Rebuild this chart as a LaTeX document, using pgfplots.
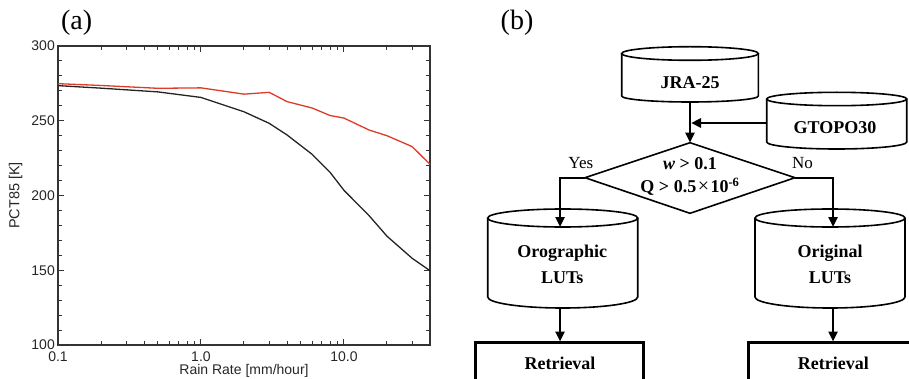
\documentclass[border=0pt]{standalone}
\usepackage{pgfplots}
\pgfplotsset{compat=1.18}
\usepackage{fontspec}
\setmainfont{Liberation Serif}
\setsansfont{Liberation Sans}
\usetikzlibrary{arrows.meta}
\definecolor{redline}{RGB}{222,58,40}
\definecolor{blkline}{RGB}{35,35,35}
\newcommand{\cyl}[6]{%
  \draw[line width=1.6pt, fill=white] (#1,#3) ellipse [x radius=#2, y radius=#4];
  \draw[line width=1.6pt] (#1-#2,#3) -- (#1-#2,#5) arc[start angle=180, end angle=0, x radius=#2, y radius=#6] -- (#1+#2,#3);
}
\begin{document}
\begin{tikzpicture}[x=1pt,y=1pt]
\path[use as bounding box] (0,0) rectangle (909,378);
\begin{axis}[
  at={(58pt,33pt)}, anchor=south west, scale only axis,
  width=372pt, height=299pt,
  xmode=log, xmin=0.1, xmax=40, ymin=100, ymax=300,
  xtick={0.1,1,10}, xticklabels={0.1,1.0,10.0},
  minor xtick={0.2,0.3,0.4,0.5,0.6,0.7,0.8,0.9,2,3,4,5,6,7,8,9,20,30},
  ytick={100,150,200,250,300}, yticklabels={100,150,200,250,300},
  minor y tick num=4,
  tick align=inside, major tick length=6pt, minor tick length=4pt,
  axis line style={line width=1.2pt, draw=black!80},
  every tick/.style={line width=1pt, draw=black!80},
  ticklabel style={font=\fontsize{14}{16}\selectfont\sffamily, text=black!85},
  yticklabel style={inner sep=3pt},
  xticklabel style={anchor=base, yshift=-16pt, inner sep=0pt},
  xlabel={Rain Rate [mm/hour]}, ylabel={PCT85 [K]},
  label style={font=\fontsize{14.5}{16}\selectfont\sffamily, text=black!85},
  xlabel style={at={(axis description cs:0.5,-0.0987)}, anchor=base, inner sep=0pt, font=\fontsize{14}{16}\selectfont\sffamily},
  ylabel style={at={(axis description cs:-0.1137,0.5)}, anchor=center},
]
\addplot[blkline, line width=1.3pt] coordinates {
 (0.1,273.5) (0.2,271.8) (0.5,269.3) (1,265.6) (2,256) (3,248.3) (4,240.5)
 (6,227.5) (8,215.5) (10,203.5) (15,186.5) (20,172.8) (30,158) (40,149.7)};
\addplot[redline, line width=1.3pt] coordinates {
 (0.1,274.8) (0.2,273.6) (0.5,271.7) (1,272) (2,267.8) (3,269) (4,262.8)
 (6,258.5) (8,253.5) (10,251.8) (15,243.8) (20,240) (30,232.7) (40,220.9)};
\end{axis}
\begin{scope}[yshift=378pt, yscale=-1]
  \node[font=\fontsize{28}{30}\selectfont] at (76.7,22.5) {(a)};
  \node[font=\fontsize{28}{30}\selectfont] at (517,22.5) {(b)};
  % cylinders
  \cyl{690}{68.3}{53.5}{6.8}{96}{6}
  \cyl{836.7}{70}{99}{6.7}{142}{7}
  \cyl{562.7}{75}{218}{9}{297}{11}
  \cyl{830}{75}{218}{9}{297}{11}
  % diamond
  \draw[line width=1.6pt, line join=miter] (690,142.7) -- (795,177.7) -- (690,213.3) -- (585,177.7) -- cycle;
  % arrows
  \begin{scope}[line width=2.4pt, >={Triangle[length=10pt,width=9pt]}]
    \draw[->] (690,102) -- (690,142.7);
    \draw[->] (766.7,123) -- (691,123);
    \draw[->, line join=miter] (585,177.7) -- (560,177.7) -- (560,227);
    \draw[->, line join=miter] (795,177.7) -- (833,177.7) -- (833,227);
    \draw[->] (560,308) -- (560,341.5);
    \draw[->] (833,308) -- (833,341.5);
  \end{scope}
  % retrieval boxes
  \draw[line width=3pt] (475,390) -- (475,342.5) -- (643,342.5) -- (643,390);
  \draw[line width=3pt] (748.5,390) -- (748.5,342.5) -- (920,342.5);
  % texts
  \begin{scope}[every node/.style={font=\fontsize{18}{20}\selectfont\bfseries}]
    \node at (690,83) {JRA-25};
    \node at (835,127.5) {GTOPO30};
    \node at (562.3,253.3) {Orographic};
    \node at (562.3,277.7) {LUTs};
    \node at (830,253.3) {Original};
    \node at (830,277.7) {LUTs};
    \node at (690,163.3) {\textit{w} > 0.1};
    \node at (690,186.7) {Q > 0.5\kern1.5pt{\fontsize{20}{20}\selectfont\mdseries ×}\kern1.5pt10\textsuperscript{-6}};
    \node at (560,363.3) {Retrieval};
    \node at (833.3,363.3) {Retrieval};
  \end{scope}
  \node[font=\fontsize{17}{19}\selectfont] at (580.8,163.3) {Yes};
  \node[font=\fontsize{17}{19}\selectfont] at (802.5,163.3) {No};
\end{scope}
\end{tikzpicture}
\end{document}
